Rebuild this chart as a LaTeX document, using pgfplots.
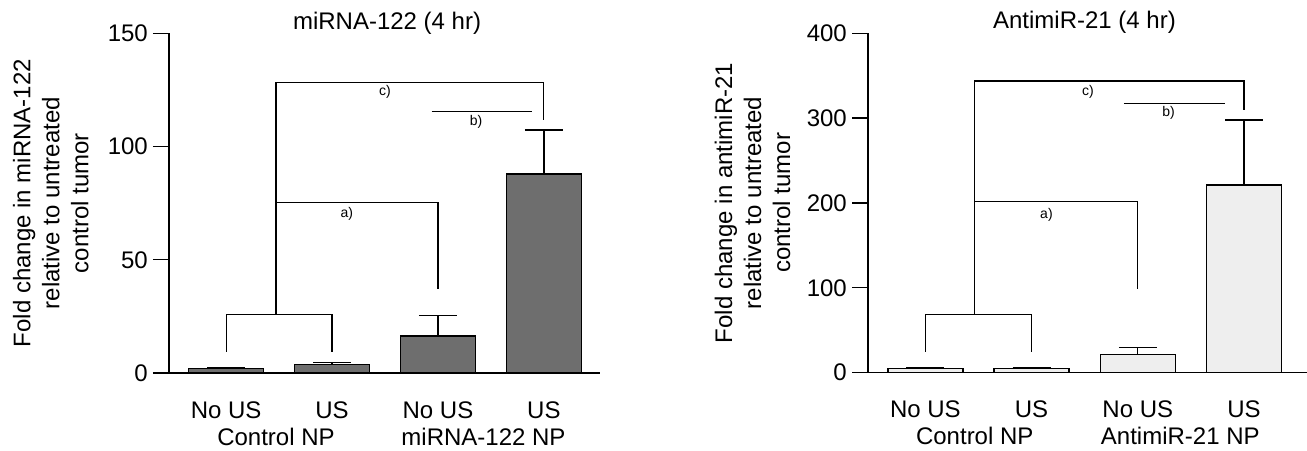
\documentclass[border=0pt]{standalone}
\usepackage{fontspec}
\setmainfont{Liberation Sans}
\usepackage{pgfplots}
\usepackage{pgfplotstable}
\pgfplotsset{compat=1.18}

\definecolor{darkbar}{HTML}{6E6E6E}
\definecolor{lightbar}{HTML}{EEEEEE}

% fold change, mean and upper SEM
\pgfplotstableread{
x  y     err
0  1.9   0.6
1  3.8   0.7
2  16.4  9.0
3  88.0  19.3
}\mirdata
\pgfplotstableread{
x  y     err
0  4.7   1.6
1  4.7   1.6
2  21.7  8.3
3  221   76.6
}\antidata

\tikzset{
  sig/.style={line width=1.2pt},
  siglab/.style={font=\fontsize{14}{16}\selectfont},
}

\pgfplotsset{
  foldaxis/.style={
    scale only axis,
    width=431pt, height=339.5pt,
    anchor=south west,
    axis lines*=left,
    axis line style={line width=1.3pt},
    xmin=-0.54,
    ymin=0,
    xtick={0,1,2,3},
    xticklabels={No US,US,No US,US},
    xtick style={draw=none},
    xticklabel style={anchor=center, yshift=-21pt},
    extra x tick style={xticklabel style={yshift=-26.5pt}},
    ytick style={line width=1.3pt, black},
    tick align=outside,
    major tick length=16pt,
    yticklabel style={inner sep=0pt, xshift=-5pt},
    /pgf/number format/assume math mode=true,
    every axis y label/.style={rotate=90, anchor=center, align=center},
    title style={anchor=center},
    clip=false,
  },
  foldbars/.style={
    ybar, bar width=75pt, draw=black, line width=1.4pt, fill=#1,
    error bars/.cd, y dir=plus, y explicit,
    error bar style={line width=1.3pt, black},
    error mark options={rotate=90, mark size=19pt, line width=1.3pt, black},
  },
}

\begin{document}
\begin{tikzpicture}[font=\fontsize{24}{29}\selectfont]
\useasboundingbox (0,0) rectangle (1307pt,450pt);

\begin{axis}[
  foldaxis,
  at={(169pt,77pt)},
  xmax=3.53,
  ymax=150,
  ytick={0,50,100,150},
  extra x ticks={0.47,2.43},
  extra x tick labels={Control NP,miRNA-122 NP},
  title={miRNA-122 (4 hr)},
  title style={at={(axis description cs:0.506,1.013)}},
  ylabel={Fold change in miRNA-122\\relative to untreated\\control tumor},
  ylabel style={at={(axis description cs:-0.274,0.5)}},
]
\addplot[foldbars=darkbar] table[x=x, y=y, y error=err] {\mirdata};
\draw[sig] (axis cs:0,9.4) -- (axis cs:0,25.9) -- (axis cs:1,25.9) -- (axis cs:1,9.4);
\draw[sig] (axis cs:0.47,25.9) -- (axis cs:0.47,128.5) -- (axis cs:3,128.5) -- (axis cs:3,112);
\draw[sig] (axis cs:0.47,75.5) -- (axis cs:2,75.5) -- (axis cs:2,37);
\draw[sig] (axis cs:1.94,115.5) -- (axis cs:2.89,115.5);
\node[siglab] at (axis cs:1.14,70.5) {a)};
\node[siglab] at (axis cs:2.36,111) {b)};
\node[siglab] at (axis cs:1.5,124) {c)};
\end{axis}

\begin{axis}[
  foldaxis,
  at={(868pt,77.3pt)},
  width=439pt,
  xmax=3.593,
  ymax=400,
  ytick={0,100,200,300,400},
  extra x ticks={0.465,2.40},
  extra x tick labels={Control NP,AntimiR-21 NP},
  title={AntimiR-21 (4 hr)},
  title style={at={(axis description cs:0.493,1.013)}},
  ylabel={Fold change in antimiR-21\\relative to untreated\\control tumor},
  ylabel style={at={(axis description cs:-0.263,0.5)}},
]
\addplot[foldbars=lightbar] table[x=x, y=y, y error=err] {\antidata};
\draw[sig] (axis cs:0,24.4) -- (axis cs:0,68.7) -- (axis cs:1,68.7) -- (axis cs:1,24.4);
\draw[sig] (axis cs:0.46,68.7) -- (axis cs:0.46,343.6) -- (axis cs:3,343.6) -- (axis cs:3,309);
\draw[sig] (axis cs:0.46,201.4) -- (axis cs:2,201.4) -- (axis cs:2,98.2);
\draw[sig] (axis cs:1.87,317.5) -- (axis cs:2.82,317.5);
\node[siglab] at (axis cs:1.14,185.7) {a)};
\node[siglab] at (axis cs:2.29,306) {b)};
\node[siglab] at (axis cs:1.53,331) {c)};
\end{axis}
\end{tikzpicture}
\end{document}
